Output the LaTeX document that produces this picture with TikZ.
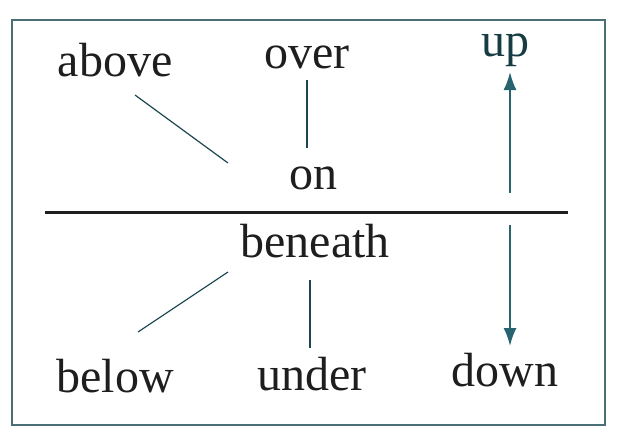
\documentclass[tikz,border=0pt]{standalone}
\usepackage{fontspec}
\usetikzlibrary{arrows.meta}
\setmainfont{Liberation Serif}
\definecolor{teal1}{RGB}{40,100,112}
\definecolor{ink}{RGB}{30,30,30}
\begin{document}
\begin{tikzpicture}[x=1pt,y=-1pt,
  word/.style={inner sep=0pt,font=\fontsize{48}{50}\selectfont,text=ink},
  conn/.style={draw=teal1!70!black,line width=1.2pt},
  arr/.style={draw=teal1,line width=2pt,-{Latex[length=18pt,width=13pt]}}]
\useasboundingbox (0,0) rectangle (619,437);
\draw[draw=teal1!60!gray,line width=1.5pt] (12,20) rectangle (605,425);
\node[word] (above) at (115,60) {above};
\node[word] (over) at (307,57) {over};
\node[word,text=teal1!60!black] (up) at (505,50) {up};
\node[word] (on) at (313,178) {on};
\node[word] (beneath) at (315,241) {beneath};
\node[word] (below) at (115,376) {below};
\node[word] (under) at (312,374) {under};
\node[word] (down) at (505,370) {down};
\coordinate (divL) at (45,212);
\coordinate (divR) at (568,212);
\draw[ink,line width=3pt] (divL) -- (divR);
\coordinate (a1) at (135,95); \coordinate (a2) at (228,163);
\draw[conn] (a1) -- (a2);
\coordinate (o1) at (307,80); \coordinate (o2) at (307,148);
\draw[conn] (o1) -- (o2);
\coordinate (u1) at (510,193); \coordinate (u2) at (510,72);
\draw[arr] (u1) -- (u2);
\coordinate (d1) at (510,225); \coordinate (d2) at (510,346);
\draw[arr] (d1) -- (d2);
\coordinate (b1) at (228,272); \coordinate (b2) at (138,332);
\draw[conn] (b1) -- (b2);
\coordinate (n1) at (310,280); \coordinate (n2) at (310,348);
\draw[conn] (n1) -- (n2);
\end{tikzpicture}
\end{document}
